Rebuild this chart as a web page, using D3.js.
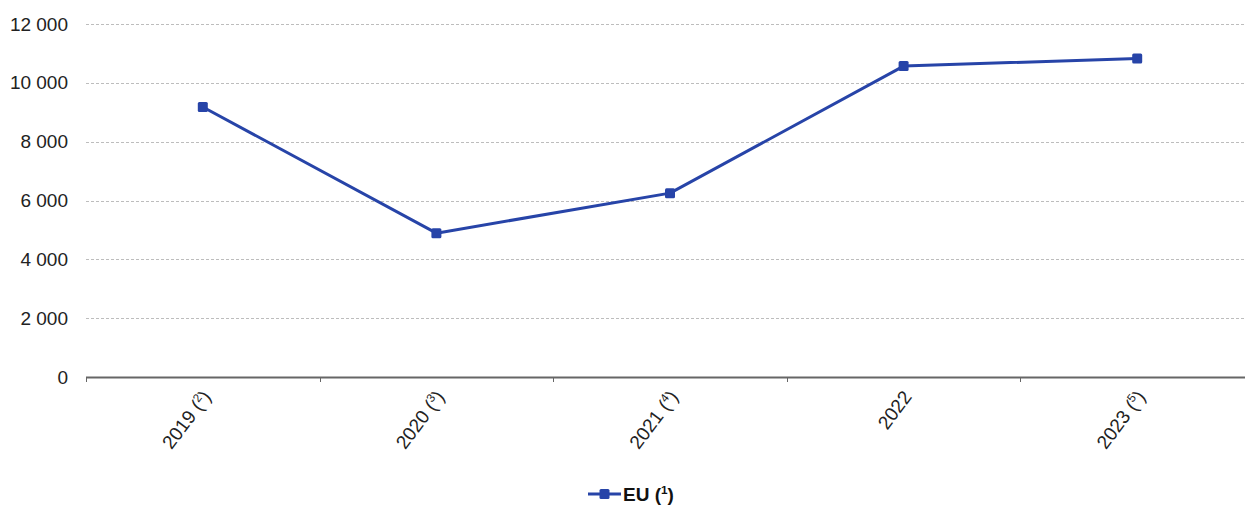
<!DOCTYPE html>
<html>
<head>
<meta charset="utf-8">
<script src="https://cdn.jsdelivr.net/npm/d3@7"></script>
<style>
  html, body { margin: 0; padding: 0; background: #fff; }
  svg { display: block; font-family: "Liberation Sans", Arial, sans-serif; }
</style>
</head>
<body>
<svg id="chart" width="1245" height="505"></svg>
<script>
// Yearly values for the EU series; footnote numbers kept apart from the year
const years = ["2019", "2020", "2021", "2022", "2023"];
const notes = ["2", "3", "4", "", "5"];
const euValues = [9180, 4890, 6250, 10570, 10830];
const yTicks = [0, 2000, 4000, 6000, 8000, 10000, 12000];
const seriesName = "EU";
const seriesNote = "1";

const color = "#2744A8";
const fontSize = 19;
const svg = d3.select("#chart");
const margin = { left: 86, right: 1254, top: 24, bottom: 377 };

const x = d3.scaleBand().domain(years).range([margin.left, margin.right]).padding(0);
const y = d3.scaleLinear().domain([0, 12000]).range([margin.bottom, margin.top]);

const fmt = v => d3.format(",")(v).replace(/,/g, " ");

// Horizontal gridlines
svg.append("g")
  .selectAll("line")
  .data(yTicks.filter(d => d > 0))
  .join("line")
  .attr("x1", margin.left).attr("x2", margin.right)
  .attr("y1", d => Math.round(y(d)) + 0.5).attr("y2", d => Math.round(y(d)) + 0.5)
  .attr("stroke", "#bdbdbd").attr("stroke-width", 1).attr("stroke-dasharray", "3,2");

// Y axis labels (no axis line)
const yAxis = svg.append("g")
  .attr("transform", `translate(${margin.left},0)`)
  .call(d3.axisLeft(y).tickValues(yTicks).tickFormat(fmt).tickSize(0).tickPadding(18));
yAxis.select(".domain").remove();
yAxis.selectAll("text").attr("font-size", fontSize).attr("fill", "#222")
  .attr("font-family", "Liberation Sans, Arial, sans-serif");

// X axis with ticks at band boundaries
const xAxisG = svg.append("g").attr("transform", `translate(0,${margin.bottom})`);
xAxisG.append("line")
  .attr("x1", margin.left).attr("x2", margin.right)
  .attr("y1", 0.5).attr("y2", 0.5)
  .attr("stroke", "#666").attr("stroke-width", 2);
const boundaries = years.map(d => x(d)).concat([x(years[years.length - 1]) + x.bandwidth()]);
xAxisG.selectAll("line.tick")
  .data(boundaries)
  .join("line")
  .attr("class", "tick")
  .attr("x1", d => Math.round(d) + 0.5).attr("x2", d => Math.round(d) + 0.5)
  .attr("y1", 0).attr("y2", 5)
  .attr("stroke", "#666").attr("stroke-width", 1);

// Rotated category labels with superscript footnote markers
const labels = xAxisG.selectAll("text")
  .data(years)
  .join("text")
  .attr("transform", d => `translate(${x(d) + x.bandwidth() / 2 + 9},${20}) rotate(-53)`)
  .attr("text-anchor", "end")
  .attr("font-size", fontSize)
  .attr("fill", "#222");
labels.each(function(d, i) {
  const t = d3.select(this);
  t.append("tspan").text(d);
  if (notes[i]) {
    t.append("tspan").text(" (");
    t.append("tspan").attr("font-size", fontSize * 0.62).attr("dy", -7).text(notes[i]);
    t.append("tspan").attr("dy", 7).text(")");
  }
});

// Line and markers
const cx = d => x(d) + x.bandwidth() / 2;
const pts = years.map((d, i) => [cx(d), y(euValues[i])]);
svg.append("path")
  .datum(pts)
  .attr("fill", "none")
  .attr("stroke", color)
  .attr("stroke-width", 3)
  .attr("stroke-linejoin", "round")
  .attr("d", d3.line());

svg.append("g")
  .selectAll("rect")
  .data(pts)
  .join("rect")
  .attr("x", d => d[0] - 5).attr("y", d => d[1] - 5)
  .attr("width", 10).attr("height", 10)
  .attr("rx", 1.5)
  .attr("fill", color);

// Legend
const lg = svg.append("g").attr("transform", "translate(588,494)");
lg.append("line").attr("x1", 0).attr("x2", 33).attr("y1", 0).attr("y2", 0)
  .attr("stroke", color).attr("stroke-width", 3);
lg.append("rect").attr("x", 11.5).attr("y", -5).attr("width", 10).attr("height", 10)
  .attr("rx", 1.5).attr("fill", color);
const lt = lg.append("text").attr("x", 35).attr("y", 7)
  .attr("font-size", fontSize).attr("font-weight", "bold").attr("fill", "#111");
lt.append("tspan").text(seriesName + " (");
lt.append("tspan").attr("font-size", fontSize * 0.62).attr("dy", -7).text(seriesNote);
lt.append("tspan").attr("dy", 7).text(")");
</script>
</body>
</html>
